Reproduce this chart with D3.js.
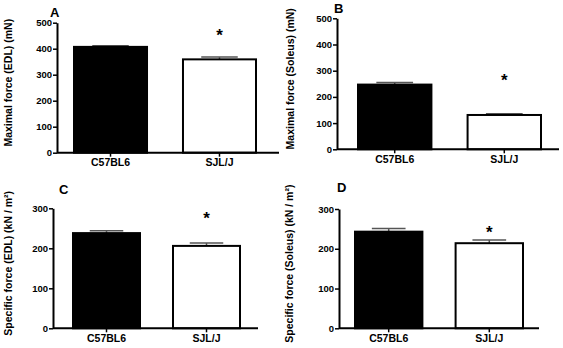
<!DOCTYPE html>
<html>
<head>
<meta charset="utf-8">
<script src="https://cdn.jsdelivr.net/npm/d3@7"></script>
<style>
  body { margin: 0; background: #fff; }
  svg text { font-family: "Liberation Sans", Arial, sans-serif; font-weight: bold; fill: #000; }
</style>
</head>
<body>
<div id="chart"></div>
<script>
// data
const strains = ['C57BL6', 'SJL/J'];
const panelLetters = ['A', 'B', 'C', 'D'];
const yTitles = [
    'Maximal force (EDL) (mN)',
    'Maximal force (Soleus) (mN)',
    'Specific force (EDL) (kN / m²)',
    'Specific force (Soleus) (kN / m²)'
];
const yMax = [500, 500, 300, 300];
const yTicks = [[0, 100, 200, 300, 400, 500], [0, 100, 200, 300, 400, 500], [0, 100, 200, 300], [0, 100, 200, 300]];
const meanA = [407, 359], semA = [4, 9];
const meanB = [247, 131], semB = [8, 5];
const meanC = [238, 206], semC = [6, 7];
const meanD = [243, 214], semD = [8, 8];
const means = [meanA, meanB, meanC, meanD];
const sems = [semA, semB, semC, semD];
// where the significance star sits (in data units)
const starAt = [462, 272, 280, 248];

// layout of each panel (pixels)
const layout = [
    { ax: 57,  xEnd: 279, bars: [74, 256],  y0: 152.7, y1: 22.7,  titleX: 8,   letterX: 50,  letterY: 17 },
    { ax: 337, xEnd: 559, bars: [358, 541], y0: 149.3, y1: 18.3,  titleX: 290, letterX: 334, letterY: 13 },
    { ax: 53,  xEnd: 258, bars: [73, 240],  y0: 328.3, y1: 208.3, titleX: 8,   letterX: 59,  letterY: 194 },
    { ax: 339, xEnd: 539, bars: [355, 523], y0: 328.3, y1: 209,   titleX: 289, letterX: 337, letterY: 192 }
];

const svg = d3.select('#chart').append('svg')
    .attr('width', 563)
    .attr('height', 348);

layout.forEach((p, i) => {
    const g = svg.append('g');
    const x = d3.scaleBand().domain(strains).range(p.bars).paddingInner(0.33).paddingOuter(0);
    const y = d3.scaleLinear().domain([0, yMax[i]]).range([p.y0, p.y1]);

    // y axis
    const yAxis = g.append('g')
        .attr('transform', `translate(${p.ax},0)`)
        .call(d3.axisLeft(y).tickValues(yTicks[i]).tickSize(4).tickSizeOuter(0).tickPadding(1));
    yAxis.select('.domain').attr('stroke-width', 2);
    yAxis.selectAll('.tick line').attr('stroke-width', 1.5);
    yAxis.selectAll('.tick text').style('font-size', '9.5px').attr('font-family', null).attr('fill', '#000');

    const data = strains.map((s, j) => ({ s, m: means[i][j], e: sems[i][j], j }));

    // error bars (upper only)
    g.selectAll('.err').data(data).enter().append('path')
        .attr('fill', 'none')
        .attr('stroke', '#555')
        .attr('stroke-width', 1.5)
        .attr('d', d => {
            const cx = x(d.s) + x.bandwidth() / 2;
            const w = x.bandwidth() / 4;
            return `M${cx},${y(d.m)}V${y(d.m + d.e)}M${cx - w},${y(d.m + d.e)}H${cx + w}`;
        });

    // bars
    g.selectAll('.bar').data(data).enter().append('rect')
        .attr('x', d => x(d.s))
        .attr('y', d => y(d.m))
        .attr('width', x.bandwidth())
        .attr('height', d => p.y0 - y(d.m))
        .attr('fill', d => d.j === 0 ? '#000' : '#fff')
        .attr('stroke', '#000')
        .attr('stroke-width', 2);

    // x axis
    const xAxis = g.append('g')
        .attr('transform', `translate(0,${p.y0})`)
        .call(d3.axisBottom(x).tickSize(4).tickSizeOuter(0).tickPadding(2));
    xAxis.select('.domain').remove();
    xAxis.selectAll('.tick line').attr('stroke-width', 1.5);
    xAxis.selectAll('.tick text').style('font-size', '10.5px').attr('font-family', null).attr('fill', '#000');
    g.append('line')
        .attr('x1', p.ax).attr('x2', p.xEnd)
        .attr('y1', p.y0).attr('y2', p.y0)
        .attr('stroke', '#000').attr('stroke-width', 2);

    // star
    g.append('text')
        .attr('x', x(strains[1]) + x.bandwidth() / 2)
        .attr('y', y(starAt[i]) + 8)
        .attr('text-anchor', 'middle')
        .style('font-size', '17px')
        .text('*');

    // y title
    g.append('text')
        .attr('transform', `translate(${p.titleX},${(p.y0 + p.y1) / 2 - 5}) rotate(-90)`)
        .attr('text-anchor', 'middle')
        .attr('dy', '0.35em')
        .style('font-size', '10.5px')
        .text(yTitles[i]);

    // panel letter
    g.append('text')
        .attr('x', p.letterX)
        .attr('y', p.letterY)
        .style('font-size', '13px')
        .text(panelLetters[i]);
});
</script>
</body>
</html>
